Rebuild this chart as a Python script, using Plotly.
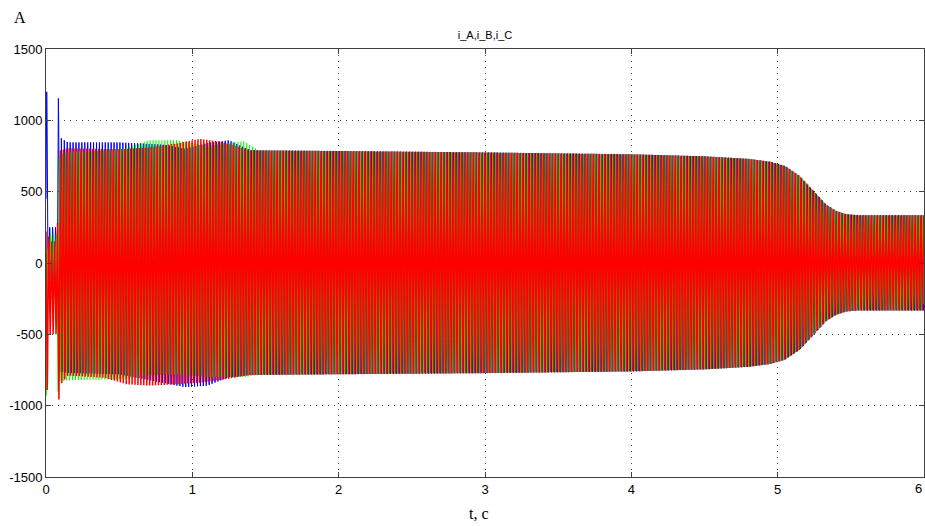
import numpy as np
import plotly.graph_objects as go

# ---- envelope knots (time s, upper A, lower A) ----
t_knots_A = [0, 0.012, 0.02, 0.075, 0.082, 0.095, 0.15, 0.5, 0.8, 0.95, 1.1, 1.25, 1.4, 2.0, 3.0, 4.0, 4.5, 4.8, 4.95, 5.05, 5.15, 5.25, 5.33, 5.4, 5.47, 5.55, 6.0]
up_A      = [1200, 1200, 250, 250, 1230, 880, 845, 845, 830, 800, 840, 860, 790, 785, 775, 762, 748, 730, 710, 680, 610, 500, 410, 365, 342, 335, 335]
lo_A      = [-300, -300, -150, -150, -300, -760, -770, -780, -840, -870, -860, -800, -785, -780, -772, -760, -746, -728, -708, -678, -608, -498, -408, -363, -340, -333, -333]

t_knots_B = [0, 0.012, 0.02, 0.075, 0.082, 0.095, 0.15, 0.5, 0.7, 0.9, 1.1, 1.35, 1.45, 2.0, 3.0, 4.0, 4.5, 4.8, 4.95, 5.05, 5.15, 5.25, 5.33, 5.4, 5.47, 5.55, 6.0]
up_B      = [100, 100, 200, 200, 700, 760, 780, 790, 860, 860, 820, 855, 790, 785, 775, 762, 748, 730, 710, 680, 610, 500, 410, 365, 342, 335, 335]
lo_B      = [-930, -930, -250, -250, -905, -830, -822, -815, -790, -780, -800, -800, -785, -780, -772, -760, -746, -728, -708, -678, -608, -498, -408, -363, -340, -333, -333]

t_knots_C = [0, 0.012, 0.02, 0.075, 0.082, 0.095, 0.15, 0.4, 0.55, 0.7, 0.9, 1.05, 1.2, 1.4, 2.0, 3.0, 4.0, 4.5, 4.8, 4.95, 5.05, 5.15, 5.25, 5.33, 5.4, 5.47, 5.55, 6.0]
up_C      = [300, 300, 150, 150, 400, 790, 805, 800, 800, 810, 840, 870, 850, 790, 785, 775, 762, 748, 730, 710, 680, 610, 500, 410, 365, 342, 335, 335]
lo_C      = [-890, -890, -500, -500, -1045, -860, -790, -805, -850, -860, -850, -840, -820, -785, -780, -772, -760, -746, -728, -708, -678, -608, -498, -408, -363, -340, -333, -333]

freq_hz = 50.0
phase_deg = [0, -120, 120]
dt = 0.0002   # simulation output step

x_ticks = [0, 1, 2, 3, 4, 5, 6]
y_ticks = [-1500, -1000, -500, 0, 500, 1000, 1500]

t = np.arange(0, 6.0 + dt / 2, dt)


def wave(tk, up, lo, ph):
    u = np.interp(t, tk, up)
    l = np.interp(t, tk, lo)
    mid = (u + l) / 2
    half = (u - l) / 2
    return mid + half * np.sin(2 * np.pi * freq_hz * t + np.deg2rad(ph))


iA = wave(t_knots_A, up_A, lo_A, phase_deg[0])
iB = wave(t_knots_B, up_B, lo_B, phase_deg[1])
iC = wave(t_knots_C, up_C, lo_C, phase_deg[2])

fig = go.Figure()
for y, col, w, name in [(iA, "#0000ff", 1.0, "i_A"), (iB, "#00ff00", 1.1, "i_B"), (iC, "#ff0000", 1.5, "i_C")]:
    fig.add_trace(go.Scatter(x=t, y=y, mode="lines", line=dict(color=col, width=w), name=name,
                             showlegend=False, hoverinfo="skip"))

tick_font = dict(family="Liberation Sans, Arial, sans-serif", size=13, color="black")
axis_common = dict(showline=True, linecolor="#404040", linewidth=1, mirror="allticks",
                   ticks="inside", ticklen=5, tickcolor="#404040",
                   showgrid=True, gridcolor="#404040", griddash="1px,5px", gridwidth=1,
                   zeroline=False, automargin=False, tickfont=tick_font)

# plot area in pixels: x 46..924, y 49..477
fig.update_layout(
    width=925, height=526,
    margin=dict(l=46, r=1, t=49, b=49, autoexpand=False),
    paper_bgcolor="white", plot_bgcolor="white",
    title=dict(text="i_A,i_B,i_C", x=0.5, xref="paper", y=1 - 35 / 526, yanchor="middle",
               font=dict(family="Liberation Sans, Arial, sans-serif", size=11, color="black")),
    xaxis=dict(range=[0, 6], tickvals=x_ticks[:-1], ticktext=[str(v) for v in x_ticks[:-1]], **axis_common),
    yaxis=dict(range=[-1500, 1500], tickvals=y_ticks, ticktext=[str(v) for v in y_ticks], **axis_common),
    annotations=[
        dict(text="A", x=(20 - 46) / 878, y=(477 - 17) / 428, xref="paper", yref="paper",
             xanchor="center", yanchor="middle", showarrow=False,
             font=dict(family="Liberation Serif, Times New Roman, serif", size=16, color="black")),
        dict(text="t, c", x=(479 - 46) / 878, y=(477 - 513) / 428, xref="paper", yref="paper",
             xanchor="center", yanchor="middle", showarrow=False,
             font=dict(family="Liberation Serif, Times New Roman, serif", size=16, color="black")),
        dict(text=str(x_ticks[-1]), x=x_ticks[-1], y=0, xref="x", yref="paper",
             xanchor="right", yanchor="top", yshift=-2, showarrow=False, font=tick_font),
    ],
)

fig.write_html("out.html", config={"displayModeBar": False},
               post_script="document.body.style.margin='0';document.body.style.padding='0';")
